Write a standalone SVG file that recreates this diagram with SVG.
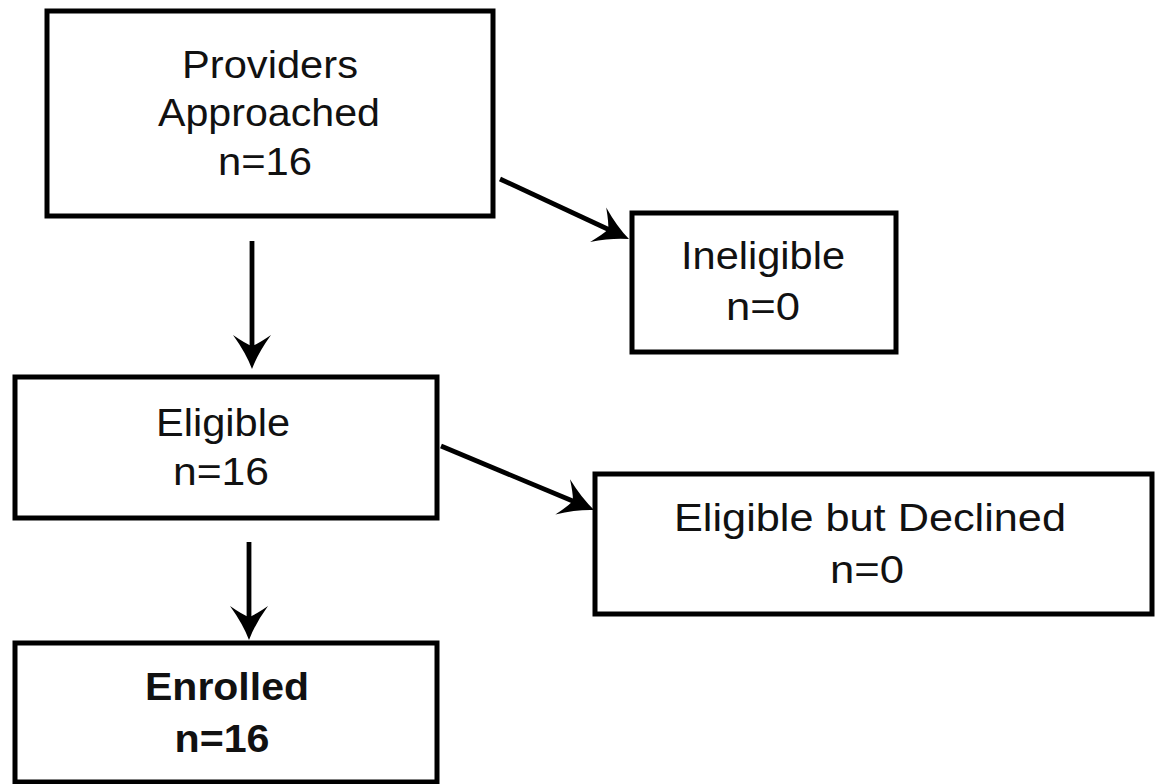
<svg xmlns="http://www.w3.org/2000/svg" width="1156" height="784" viewBox="0 0 1156 784">
  <style>
    .box { fill: #ffffff; stroke: #000000; stroke-width: 5; }
    .lbl { font-family: "Liberation Sans", Arial, Helvetica, sans-serif; font-size: 39px; fill: #111111; text-anchor: middle; }
    .bold { font-weight: bold; }
    .conn { stroke: #000000; stroke-width: 4.8; fill: none; marker-end: url(#arrow); }
  </style>
  <defs>
    <marker id="arrow" markerUnits="userSpaceOnUse" markerWidth="40" markerHeight="40" viewBox="0 -20 40 40" refX="18" refY="0" orient="auto">
      <path d="M34,0 Q18,-6 0,-19 Q9,-6 11,0 Q9,6 0,19 Q18,6 34,0 Z" fill="#000000"/>
    </marker>
  </defs>
  <rect width="1156" height="784" fill="#ffffff"/>

  <g id="connectors">
    <line class="conn" x1="252" y1="241" x2="252" y2="353"/>
    <line class="conn" x1="249" y1="542" x2="249" y2="624"/>
    <line class="conn" x1="500" y1="179" x2="614.5" y2="232.3"/>
    <line class="conn" x1="441" y1="446" x2="579.3" y2="503.8"/>
  </g>

  <g id="node-approached">
    <rect class="box" x="47" y="11" width="446" height="205"/>
    <text class="lbl" x="270" y="78" textLength="176" lengthAdjust="spacingAndGlyphs">Providers</text>
    <text class="lbl" x="269" y="126" textLength="222" lengthAdjust="spacingAndGlyphs">Approached</text>
    <text class="lbl" x="265" y="175" textLength="94" lengthAdjust="spacingAndGlyphs">n=16</text>
  </g>

  <g id="node-ineligible">
    <rect class="box" x="632" y="213" width="264" height="139"/>
    <text class="lbl" x="763" y="269" textLength="164" lengthAdjust="spacingAndGlyphs">Ineligible</text>
    <text class="lbl" x="763" y="320" textLength="74" lengthAdjust="spacingAndGlyphs">n=0</text>
  </g>

  <g id="node-eligible">
    <rect class="box" x="15" y="377" width="422" height="141"/>
    <text class="lbl" x="223" y="436" textLength="134" lengthAdjust="spacingAndGlyphs">Eligible</text>
    <text class="lbl" x="221" y="485" textLength="96" lengthAdjust="spacingAndGlyphs">n=16</text>
  </g>

  <g id="node-declined">
    <rect class="box" x="595" y="474" width="557" height="140"/>
    <text class="lbl" x="870" y="531" textLength="392" lengthAdjust="spacingAndGlyphs">Eligible but Declined</text>
    <text class="lbl" x="867" y="583" textLength="74" lengthAdjust="spacingAndGlyphs">n=0</text>
  </g>

  <g id="node-enrolled">
    <rect class="box" x="15" y="643" width="422" height="139"/>
    <text class="lbl bold" x="227" y="700" textLength="164" lengthAdjust="spacingAndGlyphs">Enrolled</text>
    <text class="lbl bold" x="222" y="752" textLength="95" lengthAdjust="spacingAndGlyphs">n=16</text>
  </g>
</svg>
